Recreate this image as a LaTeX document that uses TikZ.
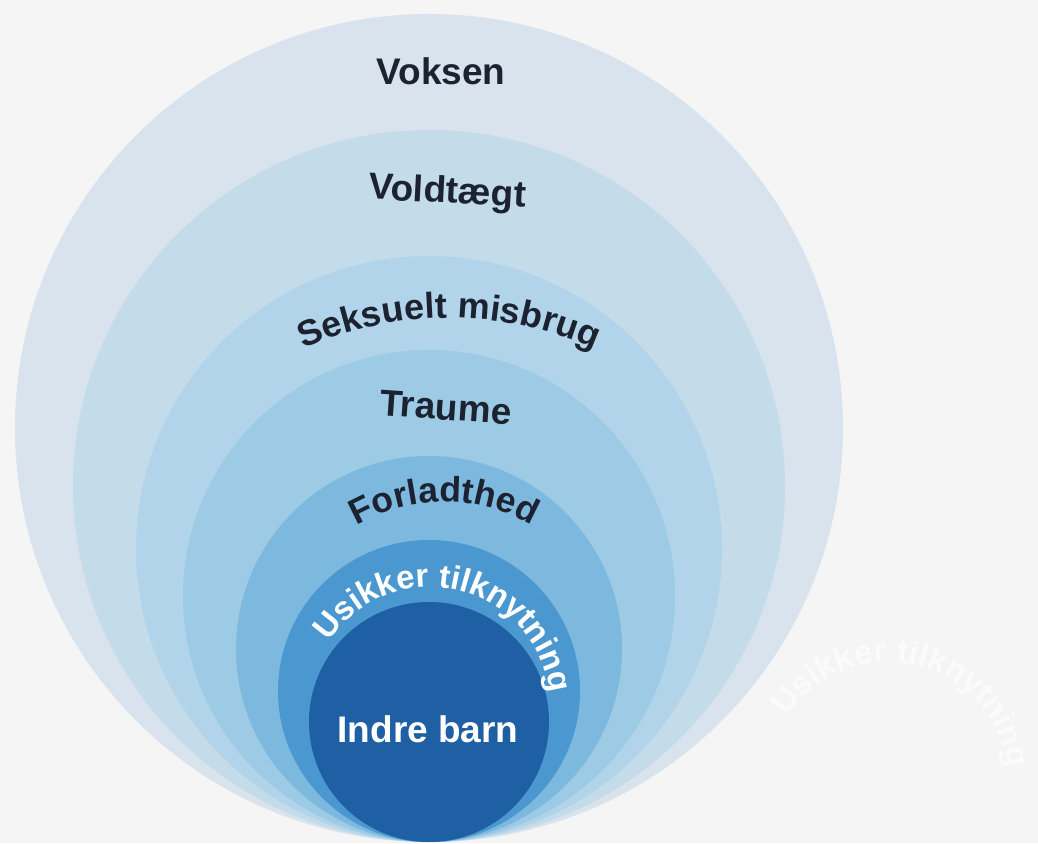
\documentclass[tikz,border=0pt]{standalone}
\usepackage{fontspec}
\setmainfont{Liberation Sans}
\usetikzlibrary{decorations.text}

\definecolor{backgr}{HTML}{F5F5F5}
\definecolor{ringvoksen}{HTML}{D8E3ED}
\definecolor{ringvold}{HTML}{C4DBEA}
\definecolor{ringmisbrug}{HTML}{B1D4EA}
\definecolor{ringtraume}{HTML}{9DCBE6}
\definecolor{ringforlad}{HTML}{7DB9DE}
\definecolor{ringusikker}{HTML}{4A98CF}
\definecolor{ringbarn}{HTML}{1E60A3}
\definecolor{labeldark}{HTML}{1C2230}
\definecolor{faintmark}{HTML}{FBFBFB}

\begin{document}
\begin{tikzpicture}[
	%	style def
    x=1pt, y=1pt,
    ring label/.style={font=\bfseries\fontsize{37}{37}\selectfont, text=labeldark, anchor=base},
    arc label/.style={decorate, decoration={text along path, text align=center, text={#1}}}
    ]

	% frame of the picture
	\fill[backgr] (0,0) rectangle (1038,843);
	\useasboundingbox (0,0) rectangle (1038,843);

	% nested rings, all touching the bottom point
	\coordinate (touch) at (429,1);
	\fill[ringvoksen]  (touch) ++(0,414) circle (414);
	\fill[ringvold]    (touch) ++(0,356) circle (356);
	\fill[ringmisbrug] (touch) ++(0,293) circle (293);
	\fill[ringtraume]  (touch) ++(0,246) circle (246);
	\fill[ringforlad]  (touch) ++(0,193) circle (193);
	\fill[ringusikker] (touch) ++(0,151) circle (151);
	\fill[ringbarn]    (touch) ++(0,120) circle (120);

	% straight labels
	\node[ring label] (voksen) at (441,758) {Voksen};
	\node[ring label, rotate=-3] (vold) at (447,640) {Voldtægt};
	\node[ring label, rotate=-4] (traume) at (445,423) {Traume};
	\node[ring label, text=white] (barn) at (428,100) {Indre barn};

	% curved labels
	\path[arc label={|\bfseries\fontsize{36}{36}\selectfont\color{labeldark}|Seksuelt misbrug}]
		(449,165) ++(115:360) arc[start angle=115, end angle=65, radius=360];
	\path[arc label={|\bfseries\fontsize{35.5}{36}\selectfont\color{labeldark}|Forladthed}]
		(444,165) ++(126:176) arc[start angle=126, end angle=54, radius=176];
	\path[arc label={|\bfseries\fontsize{33}{33}\selectfont\color{white}|Usikker tilknytning}]
		(430,135) ++(152:121) arc[start angle=152, end angle=2, radius=121];

	% faint copy at the right
	\path[arc label={|\bfseries\fontsize{33}{33}\selectfont\color{faintmark}|Usikker tilknytning}]
		(888,60) ++(152:121) arc[start angle=152, end angle=2, radius=121];
\end{tikzpicture}
\end{document}
